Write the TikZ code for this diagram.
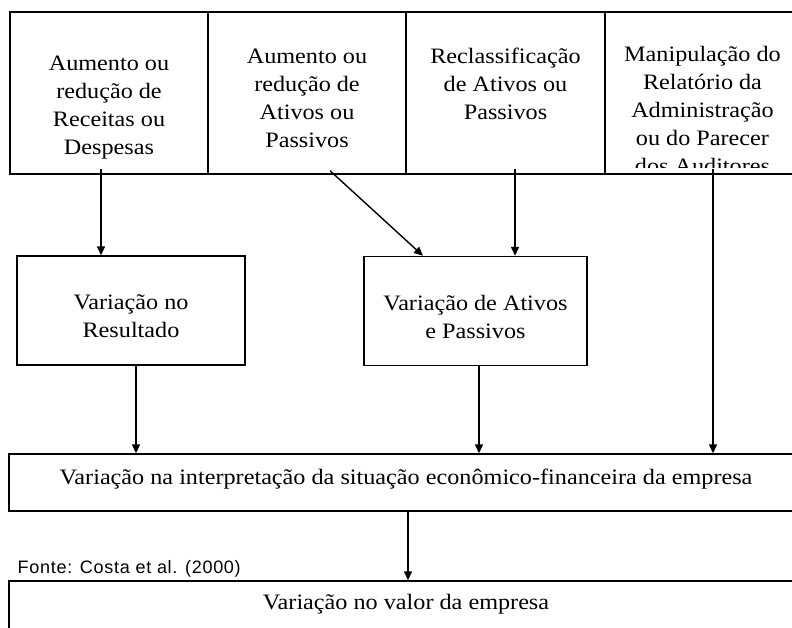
\documentclass[tikz,border=0pt]{standalone}
\usepackage{fontspec}
\setmainfont{Liberation Serif}[FakeStretch=1.1]
\newfontfamily\fontefont[LetterSpace=4]{Liberation Sans}
\usetikzlibrary{arrows.meta, positioning}

\begin{document}
\begin{tikzpicture}[->,>={Triangle[length=9pt,width=8pt]},x=1pt,y=-1pt,line width=1.4pt]
    \tikzstyle{every node}=[font=\fontsize{22}{28}\selectfont]
    \tikzstyle{topbox}=[shape=rectangle, draw=black, minimum height=162pt, inner sep=0pt]
    \tikzstyle{midbox}=[shape=rectangle, draw=black, minimum height=109pt, inner sep=0pt]
    \tikzstyle{widebox}=[shape=rectangle, draw=black, minimum width=794pt, inner sep=0pt, text depth=12pt]
    \tikzstyle{txt}=[draw=none, align=center, inner sep=0pt]
    \tikzstyle{fonte}=[draw=none, inner sep=0pt, font=\fontefont\fontsize{18}{20}\selectfont]

    \path[use as bounding box, clip, -] (0,0) rectangle (792,628);

    % linha de cima
    \node[topbox, minimum width=198pt]  (b1) at (109,93)    {};
    \node[topbox, minimum width=198pt]  (b2) at (307,93)    {};
    \node[topbox, minimum width=199pt]  (b3) at (505.5,93)  {};
    \node[topbox, minimum width=195pt]  (b4) at (702.5,93)  {};

    \node[txt, below=44pt of b1.north]  (t1) {Aumento ou\\redução de\\Receitas ou\\Despesas};
    \node[txt, below=37pt of b2.north]  (t2) {Aumento ou\\redução de\\Ativos ou\\Passivos};
    \node[txt, below=36pt of b3.north]  (t3) {Reclassificação\\de Ativos ou\\Passivos};
    \begin{scope}
        \clip ([yshift=-1pt]b4.north west) rectangle ([yshift=7pt]b4.south east);
        \node[txt, below=34pt of b4.north]  (t4) {Manipulação do\\Relatório da\\Administração\\ou do Parecer\\dos Auditores};
    \end{scope}

    % meio
    \node[midbox, minimum width=228pt]  (m1) at (131,310.5)  {};
    \node[midbox, minimum width=223pt]  (m2) at (475.5,311)  {};
    \node[txt] (r1) at ([yshift=-6pt]m1.center) {Variação no\\Resultado};
    \node[txt] (r2) at ([yshift=-6pt]m2.center) {Variação de Ativos\\e Passivos};

    % baixo
    \node[widebox, minimum height=57pt] (w1) at (406,482.5)  {Variação na interpretação da situação econômico-financeira da empresa};
    \node[fonte, anchor=base west]      (f)  at (17,573)     {Fonte: Costa et al. (2000)};
    \node[widebox, minimum height=48pt, text depth=6pt] (w2) at (406,605) {Variação no valor da empresa};

    \path
    ([xshift=-8pt,yshift=6pt]b1.south)    edge[->]   node{} ([xshift=-30pt]m1.north)
    ([xshift=23pt,yshift=4pt]b2.south)    edge[->]   node{} ([xshift=-52.5pt]m2.north)
    ([xshift=9.5pt,yshift=6pt]b3.south)   edge[->]   node{} ([xshift=39.5pt]m2.north)
    ([xshift=10.5pt,yshift=6pt]b4.south)  edge[->]   node{} ([xshift=307pt]w1.north)
    ([xshift=5pt]m1.south)                edge[->]   node{} ([xshift=-270pt]w1.north)
    ([xshift=3.5pt]m2.south)              edge[->]   node{} ([xshift=73pt]w1.north)
    ([xshift=2pt]w1.south)                edge[->]   node{} ([xshift=2pt]w2.north)
            ;

\end{tikzpicture}
\end{document}
